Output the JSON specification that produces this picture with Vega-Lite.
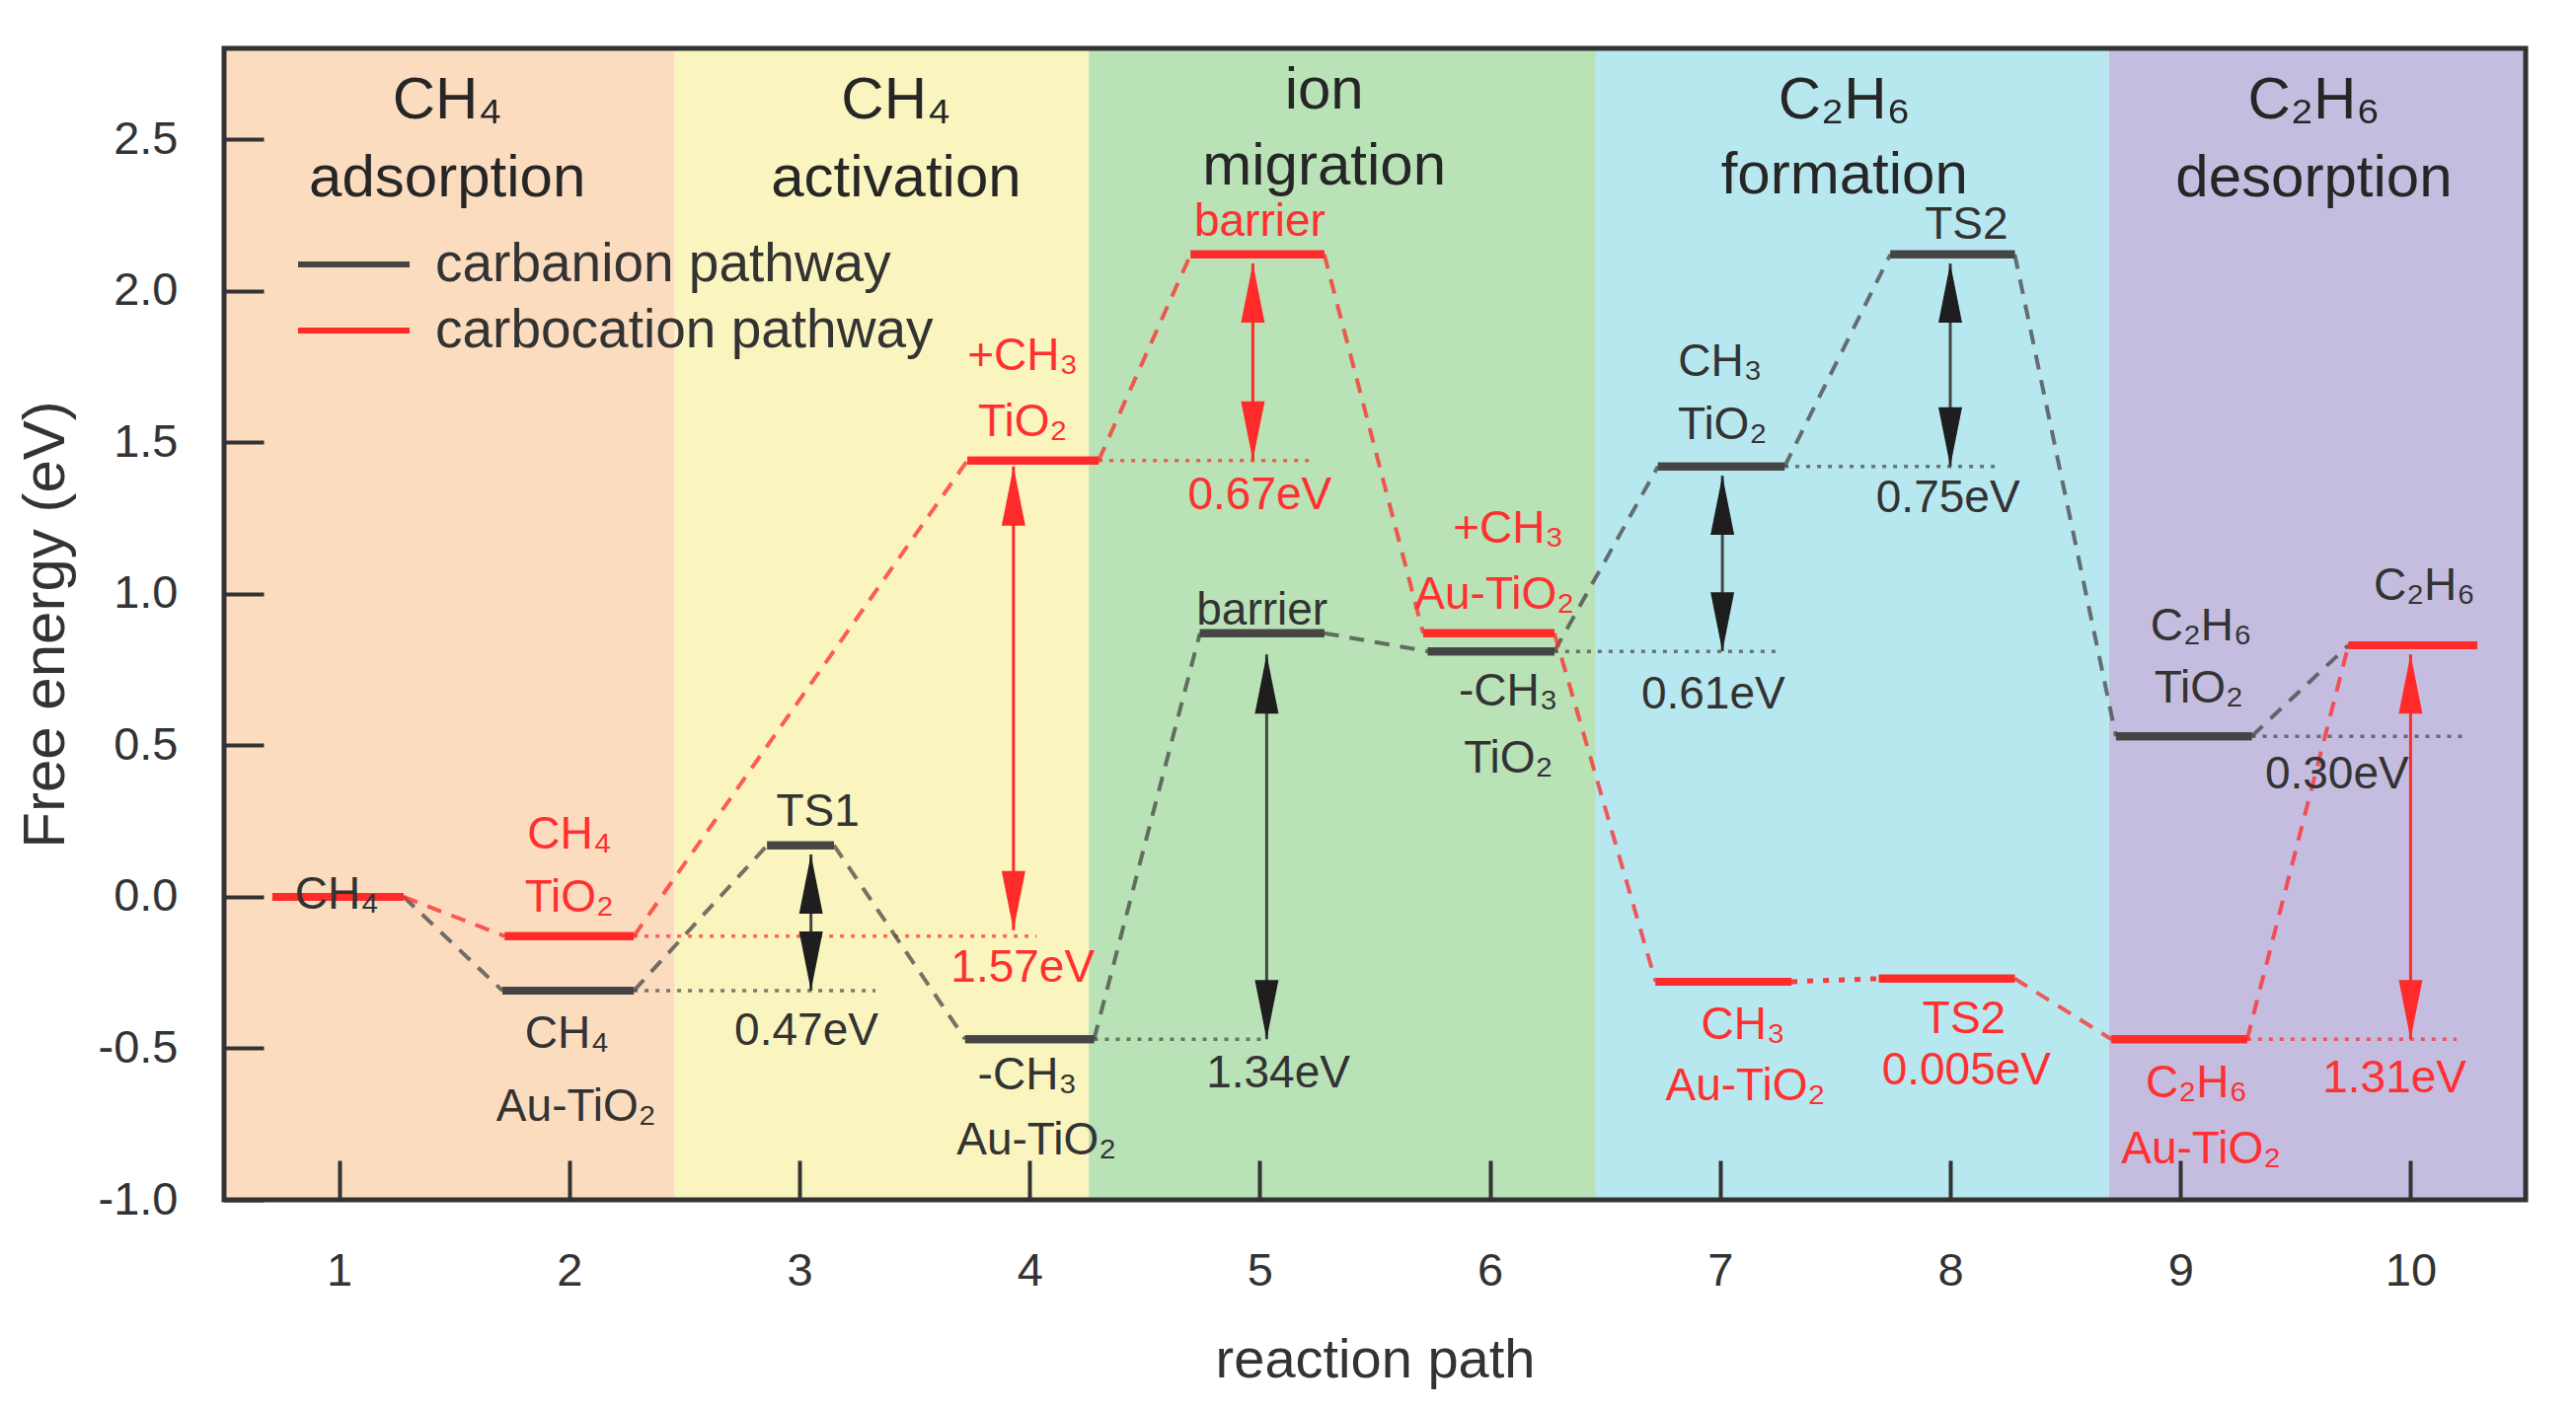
{
  "$schema": "https://vega.github.io/schema/vega-lite/v6.json",
  "width": 2332,
  "height": 1167,
  "autosize": {"type": "none"},
  "padding": {"left": 227, "top": 49, "right": 51, "bottom": 213},
  "background": "white",
  "config": {
    "font": "Liberation Sans",
    "view": {"stroke": null},
    "axis": {"grid": false, "domain": false, "tickColor": "#333333", "tickWidth": 4, "labelColor": "#333333", "titleColor": "#333333", "labelFontSize": 47, "titleFontSize": 56, "titleFontWeight": "normal"},
    "legend": {"orient": "none", "legendX": 72, "legendY": 189, "padding": 0, "offset": 0, "title": null, "clipHeight": 60, "rowPadding": 7, "symbolType": "stroke", "symbolSize": 12769, "symbolStrokeWidth": 6, "symbolOpacity": 1, "labelFontSize": 55, "labelLimit": 1000, "labelColor": "#333333", "labelOffset": 23, "symbolOffset": 0}
  },
  "resolve": {"scale": {"fill": "independent"}},
  "datasets": {
    "phases": [
      {"phase": "CH4 adsorption", "x": 0.5, "x2": 2.458},
      {"phase": "CH4 activation", "x": 2.458, "x2": 4.257},
      {"phase": "ion migration", "x": 4.257, "x2": 6.46},
      {"phase": "C2H6 formation", "x": 6.46, "x2": 8.69},
      {"phase": "C2H6 desorption", "x": 8.69, "x2": 10.5}
    ],
    "levels": [
      {"path": "carbanion pathway", "step": 1, "x": 0.71, "x2": 1.28, "y": 0},
      {"path": "carbanion pathway", "step": 2, "x": 1.71, "x2": 2.28, "y": -0.31},
      {"path": "carbanion pathway", "step": 3, "x": 2.86, "x2": 3.15, "y": 0.17},
      {"path": "carbanion pathway", "step": 4, "x": 3.72, "x2": 4.28, "y": -0.47},
      {"path": "carbanion pathway", "step": 5, "x": 4.74, "x2": 5.28, "y": 0.87},
      {"path": "carbanion pathway", "step": 6, "x": 5.73, "x2": 6.28, "y": 0.81},
      {"path": "carbanion pathway", "step": 7, "x": 6.73, "x2": 7.28, "y": 1.42},
      {"path": "carbanion pathway", "step": 8, "x": 7.74, "x2": 8.28, "y": 2.12},
      {"path": "carbanion pathway", "step": 9, "x": 8.72, "x2": 9.31, "y": 0.53},
      {"path": "carbocation pathway", "step": 1, "x": 0.71, "x2": 1.28, "y": 0},
      {"path": "carbocation pathway", "step": 2, "x": 1.72, "x2": 2.28, "y": -0.13},
      {"path": "carbocation pathway", "step": 4, "x": 3.73, "x2": 4.3, "y": 1.44},
      {"path": "carbocation pathway", "step": 5, "x": 4.7, "x2": 5.28, "y": 2.12},
      {"path": "carbocation pathway", "step": 6, "x": 5.71, "x2": 6.28, "y": 0.87},
      {"path": "carbocation pathway", "step": 7, "x": 6.72, "x2": 7.31, "y": -0.28},
      {"path": "carbocation pathway", "step": 8, "x": 7.69, "x2": 8.28, "y": -0.27},
      {"path": "carbocation pathway", "step": 9, "x": 8.7, "x2": 9.29, "y": -0.47},
      {"path": "carbocation pathway", "step": 10, "x": 9.73, "x2": 10.29, "y": 0.83}
    ],
    "connectors": [
      {"path": "carbanion pathway", "from": 1, "x": 1.28, "y": 0, "x2": 1.71, "y2": -0.31},
      {"path": "carbanion pathway", "from": 2, "x": 2.28, "y": -0.31, "x2": 2.86, "y2": 0.17},
      {"path": "carbanion pathway", "from": 3, "x": 3.15, "y": 0.17, "x2": 3.72, "y2": -0.47},
      {"path": "carbanion pathway", "from": 4, "x": 4.28, "y": -0.47, "x2": 4.74, "y2": 0.87},
      {"path": "carbanion pathway", "from": 5, "x": 5.28, "y": 0.87, "x2": 5.73, "y2": 0.81},
      {"path": "carbanion pathway", "from": 6, "x": 6.28, "y": 0.81, "x2": 6.73, "y2": 1.42},
      {"path": "carbanion pathway", "from": 7, "x": 7.28, "y": 1.42, "x2": 7.74, "y2": 2.12},
      {"path": "carbanion pathway", "from": 8, "x": 8.28, "y": 2.12, "x2": 8.72, "y2": 0.53},
      {"path": "carbanion pathway", "from": 9, "x": 9.31, "y": 0.53, "x2": 9.73, "y2": 0.83},
      {"path": "carbocation pathway", "from": 1, "x": 1.28, "y": 0, "x2": 1.72, "y2": -0.13},
      {"path": "carbocation pathway", "from": 2, "x": 2.28, "y": -0.13, "x2": 3.73, "y2": 1.44},
      {"path": "carbocation pathway", "from": 4, "x": 4.3, "y": 1.44, "x2": 4.7, "y2": 2.12},
      {"path": "carbocation pathway", "from": 5, "x": 5.28, "y": 2.12, "x2": 5.71, "y2": 0.87},
      {"path": "carbocation pathway", "from": 6, "x": 6.28, "y": 0.87, "x2": 6.72, "y2": -0.28},
      {"path": "carbocation pathway", "from": 7, "x": 7.31, "y": -0.28, "x2": 7.69, "y2": -0.27},
      {"path": "carbocation pathway", "from": 8, "x": 8.28, "y": -0.27, "x2": 8.7, "y2": -0.47},
      {"path": "carbocation pathway", "from": 9, "x": 9.29, "y": -0.47, "x2": 9.73, "y2": 0.83}
    ],
    "refs": [
      {"path": "carbanion pathway", "x": 2.28, "x2": 3.33, "y": -0.31},
      {"path": "carbanion pathway", "x": 4.28, "x2": 5.01, "y": -0.47},
      {"path": "carbanion pathway", "x": 6.28, "x2": 7.25, "y": 0.81},
      {"path": "carbanion pathway", "x": 7.28, "x2": 8.2, "y": 1.42},
      {"path": "carbanion pathway", "x": 9.31, "x2": 10.24, "y": 0.53},
      {"path": "carbocation pathway", "x": 2.28, "x2": 4.03, "y": -0.13},
      {"path": "carbocation pathway", "x": 4.3, "x2": 5.22, "y": 1.44},
      {"path": "carbocation pathway", "x": 9.29, "x2": 10.2, "y": -0.47}
    ],
    "arrows": [
      {"path": "carbanion pathway", "x": 3.05, "top": 0.14, "bottom": -0.31},
      {"path": "carbocation pathway", "x": 3.93, "top": 1.42, "bottom": -0.11},
      {"path": "carbocation pathway", "x": 4.97, "top": 2.09, "bottom": 1.44},
      {"path": "carbanion pathway", "x": 5.03, "top": 0.8, "bottom": -0.47},
      {"path": "carbanion pathway", "x": 7.01, "top": 1.39, "bottom": 0.81},
      {"path": "carbanion pathway", "x": 8.0, "top": 2.09, "bottom": 1.42},
      {"path": "carbocation pathway", "x": 10.0, "top": 0.8, "bottom": -0.47}
    ],
    "labels": [
      {"path": "carbocation pathway", "text": "CH₄", "x": 2.0, "y": 0.16},
      {"path": "carbocation pathway", "text": "TiO₂", "x": 2.0, "y": -0.05},
      {"path": "carbocation pathway", "text": "+CH₃", "x": 3.97, "y": 1.74},
      {"path": "carbocation pathway", "text": "TiO₂", "x": 3.97, "y": 1.52},
      {"path": "carbocation pathway", "text": "1.57eV", "x": 3.97, "y": -0.28},
      {"path": "carbocation pathway", "text": "barrier", "x": 5.0, "y": 2.18},
      {"path": "carbocation pathway", "text": "0.67eV", "x": 5.0, "y": 1.28},
      {"path": "carbocation pathway", "text": "+CH₃", "x": 6.08, "y": 1.17},
      {"path": "carbocation pathway", "text": "Au-TiO₂", "x": 6.02, "y": 0.95},
      {"path": "carbocation pathway", "text": "CH₃", "x": 7.1, "y": -0.47},
      {"path": "carbocation pathway", "text": "Au-TiO₂", "x": 7.11, "y": -0.67},
      {"path": "carbocation pathway", "text": "TS2", "x": 8.06, "y": -0.45},
      {"path": "carbocation pathway", "text": "0.005eV", "x": 8.07, "y": -0.62},
      {"path": "carbocation pathway", "text": "C₂H₆", "x": 9.07, "y": -0.66},
      {"path": "carbocation pathway", "text": "Au-TiO₂", "x": 9.09, "y": -0.88},
      {"path": "carbocation pathway", "text": "1.31eV", "x": 9.93, "y": -0.645},
      {"path": "carbanion pathway", "text": "CH₄", "x": 0.99, "y": -0.04},
      {"path": "carbanion pathway", "text": "CH₄", "x": 1.99, "y": -0.5},
      {"path": "carbanion pathway", "text": "Au-TiO₂", "x": 2.03, "y": -0.74},
      {"path": "carbanion pathway", "text": "TS1", "x": 3.08, "y": 0.233},
      {"path": "carbanion pathway", "text": "0.47eV", "x": 3.03, "y": -0.49},
      {"path": "carbanion pathway", "text": "-CH₃", "x": 3.99, "y": -0.634},
      {"path": "carbanion pathway", "text": "Au-TiO₂", "x": 4.03, "y": -0.85},
      {"path": "carbanion pathway", "text": "barrier", "x": 5.01, "y": 0.9},
      {"path": "carbanion pathway", "text": "1.34eV", "x": 5.08, "y": -0.628},
      {"path": "carbanion pathway", "text": "-CH₃", "x": 6.08, "y": 0.63},
      {"path": "carbanion pathway", "text": "TiO₂", "x": 6.08, "y": 0.41},
      {"path": "carbanion pathway", "text": "CH₃", "x": 7.0, "y": 1.72},
      {"path": "carbanion pathway", "text": "TiO₂", "x": 7.01, "y": 1.51},
      {"path": "carbanion pathway", "text": "0.61eV", "x": 6.97, "y": 0.62},
      {"path": "carbanion pathway", "text": "TS2", "x": 8.07, "y": 2.17},
      {"path": "carbanion pathway", "text": "0.75eV", "x": 7.99, "y": 1.27},
      {"path": "carbanion pathway", "text": "C₂H₆", "x": 9.09, "y": 0.845},
      {"path": "carbanion pathway", "text": "TiO₂", "x": 9.08, "y": 0.64},
      {"path": "carbanion pathway", "text": "0.30eV", "x": 9.68, "y": 0.357},
      {"path": "carbanion pathway", "text": "C₂H₆", "x": 10.06, "y": 0.98}
    ],
    "titles": [
      {"text": "CH₄", "x": 1.47, "y": 2.57},
      {"text": "adsorption", "x": 1.47, "y": 2.31},
      {"text": "CH₄", "x": 3.42, "y": 2.57},
      {"text": "activation", "x": 3.42, "y": 2.31},
      {"text": "ion", "x": 5.28, "y": 2.6},
      {"text": "migration", "x": 5.28, "y": 2.35},
      {"text": "C₂H₆", "x": 7.54, "y": 2.57},
      {"text": "formation", "x": 7.54, "y": 2.32},
      {"text": "C₂H₆", "x": 9.58, "y": 2.57},
      {"text": "desorption", "x": 9.58, "y": 2.31}
    ]
  },
  "encoding": {
    "x": {"type": "quantitative", "scale": {"domain": [0.5, 10.5], "nice": false, "zero": false},
      "axis": {"title": "reaction path", "zindex": 1, "values": [1, 2, 3, 4, 5, 6, 7, 8, 9, 10], "tickSize": -40, "labelPadding": 89, "titlePadding": 40}},
    "y": {"type": "quantitative", "scale": {"domain": [-1, 2.8], "nice": false, "zero": false},
      "axis": {"title": "Free energy (eV)", "zindex": 1, "titleFontSize": 60, "values": [-1, -0.5, 0, 0.5, 1, 1.5, 2, 2.5], "labelExpr": "replace(format(datum.value, '.1f'), '−', '-')", "tickSize": -40, "labelPadding": 87, "titlePadding": 22}}
  },
  "layer": [
    {
      "data": {"name": "phases"},
      "mark": {"type": "rect"},
      "encoding": {
        "x": {"field": "x", "type": "quantitative"},
        "x2": {"field": "x2"},
        "y": {"datum": -1},
        "y2": {"datum": 2.8},
        "fill": {"field": "phase", "type": "nominal", "legend": null,
          "scale": {"domain": ["CH4 adsorption", "CH4 activation", "ion migration", "C2H6 formation", "C2H6 desorption"],
                    "range": ["#fcdcbe", "#faf5be", "#b9e2b6", "#b8e8ef", "#c5bde0"]}}
      }
    },
    {
      "data": {"name": "levels"},
      "mark": {"type": "rule", "strokeWidth": 8, "strokeCap": "butt"},
      "encoding": {
        "x": {"field": "x", "type": "quantitative"},
        "x2": {"field": "x2"},
        "y": {"field": "y", "type": "quantitative"},
        "color": {"field": "path", "type": "nominal",
          "scale": {"domain": ["carbanion pathway", "carbocation pathway"], "range": ["#454545", "#ff2a2a"]}}
      }
    },
    {
      "data": {"name": "refs"},
      "mark": {"type": "rule", "strokeWidth": 3.5, "strokeDash": [4, 7], "strokeOpacity": 0.7},
      "encoding": {
        "x": {"field": "x", "type": "quantitative"},
        "x2": {"field": "x2"},
        "y": {"field": "y", "type": "quantitative"},
        "color": {"field": "path", "type": "nominal"}
      }
    },
    {
      "data": {"name": "connectors"},
      "transform": [{"filter": "!(datum.path === 'carbocation pathway' && datum.from === 7)"}],
      "mark": {"type": "rule", "strokeWidth": 4, "strokeDash": [15, 11], "strokeOpacity": 0.75},
      "encoding": {
        "x": {"field": "x", "type": "quantitative"},
        "x2": {"field": "x2"},
        "y": {"field": "y", "type": "quantitative"},
        "y2": {"field": "y2"},
        "color": {"field": "path", "type": "nominal"}
      }
    },
    {
      "data": {"name": "connectors"},
      "transform": [{"filter": "datum.path === 'carbocation pathway' && datum.from === 7"}],
      "mark": {"type": "rule", "strokeWidth": 5, "strokeDash": [6, 10, 6, 10], "strokeOpacity": 0.9},
      "encoding": {
        "x": {"field": "x", "type": "quantitative"},
        "x2": {"field": "x2"},
        "y": {"field": "y", "type": "quantitative"},
        "y2": {"field": "y2"},
        "color": {"field": "path", "type": "nominal"}
      }
    },
    {
      "data": {"name": "levels"},
      "mark": {"type": "rule", "strokeWidth": 8, "strokeCap": "butt"},
      "encoding": {
        "x": {"field": "x", "type": "quantitative"},
        "x2": {"field": "x2"},
        "y": {"field": "y", "type": "quantitative"},
        "color": {"field": "path", "type": "nominal"}
      }
    },
    {
      "data": {"name": "arrows"},
      "mark": {"type": "rule", "strokeWidth": 3},
      "encoding": {
        "x": {"field": "x", "type": "quantitative"},
        "y": {"field": "top", "type": "quantitative"},
        "y2": {"field": "bottom"},
        "color": {"field": "path", "type": "nominal"}
      }
    },
    {
      "data": {"name": "arrows"},
      "mark": {"type": "point", "filled": true, "opacity": 1, "shape": "M0,0 L0.4,2 L-0.4,2 Z", "size": 3600, "strokeWidth": 0},
      "encoding": {
        "x": {"field": "x", "type": "quantitative"},
        "y": {"field": "top", "type": "quantitative"},
        "fill": {"field": "path", "type": "nominal", "legend": null,
          "scale": {"domain": ["carbanion pathway", "carbocation pathway"], "range": ["#1e1e1e", "#ff2a2a"]}}
      }
    },
    {
      "data": {"name": "arrows"},
      "mark": {"type": "point", "filled": true, "opacity": 1, "shape": "M0,0 L0.4,-2 L-0.4,-2 Z", "size": 3600, "strokeWidth": 0},
      "encoding": {
        "x": {"field": "x", "type": "quantitative"},
        "y": {"field": "bottom", "type": "quantitative"},
        "fill": {"field": "path", "type": "nominal", "legend": null,
          "scale": {"domain": ["carbanion pathway", "carbocation pathway"], "range": ["#1e1e1e", "#ff2a2a"]}}
      }
    },
    {
      "data": {"name": "labels"},
      "mark": {"type": "text", "fontSize": 46, "align": "center", "baseline": "alphabetic"},
      "encoding": {
        "x": {"field": "x", "type": "quantitative"},
        "y": {"field": "y", "type": "quantitative"},
        "text": {"field": "text"},
        "fill": {"field": "path", "type": "nominal", "legend": null,
          "scale": {"domain": ["carbanion pathway", "carbocation pathway"], "range": ["#333333", "#ff3030"]}}
      }
    },
    {
      "data": {"name": "titles"},
      "mark": {"type": "text", "fontSize": 60, "align": "center", "baseline": "alphabetic", "color": "#262626"},
      "encoding": {
        "x": {"field": "x", "type": "quantitative"},
        "y": {"field": "y", "type": "quantitative"},
        "text": {"field": "text"}
      }
    },
    {
      "data": {"values": [{"frame": 1}]},
      "mark": {"type": "rect", "fill": null, "fillOpacity": 0, "stroke": "#333333", "strokeWidth": 5},
      "encoding": {
        "x": {"datum": 0.5},
        "x2": {"datum": 10.5},
        "y": {"datum": -1},
        "y2": {"datum": 2.8}
      }
    }
  ]
}
